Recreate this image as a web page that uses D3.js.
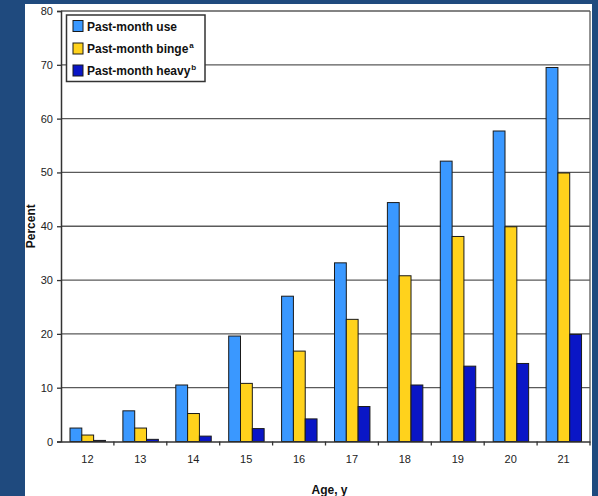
<!DOCTYPE html>
<html><head><meta charset="utf-8">
<script src="https://cdn.jsdelivr.net/npm/d3@7"></script>
<style>html,body{margin:0;padding:0;background:#1f4a7e;}svg{display:block;}</style>
</head><body>
<svg id="c" width="598" height="496"></svg>
<script>
const ages = ["12","13","14","15","16","17","18","19","20","21"];
const seriesNames = ["Past-month use","Past-month binge","Past-month heavy"];
const seriesSup = ["","a","b"];
const useVals   = [2.5, 5.7, 10.5, 19.6, 27.0, 33.2, 44.4, 52.1, 57.7, 69.5];
const bingeVals = [1.2, 2.5, 5.2, 10.8, 16.8, 22.7, 30.8, 38.1, 39.9, 49.9];
const heavyVals = [0.2, 0.4, 1.0, 2.4, 4.2, 6.5, 10.5, 14.0, 14.5, 19.9];
const yTicks = [0,10,20,30,40,50,60,70,80];
const colors = ["#3a98ff","#ffd21c","#0a16c6"];

const svg = d3.select("#c");
const W = 598, H = 496;
svg.append("rect").attr("x",0).attr("y",0).attr("width",W).attr("height",H).attr("fill","#1f4a7e");
svg.append("rect").attr("x",25).attr("y",4).attr("width",567).attr("height",492).attr("fill","#ffffff");

const L = 61, R = 590, T = 11, B = 441.5;
const x = d3.scaleBand().domain(ages).range([L, R]).padding(0);
const xs = d3.scaleBand().domain(seriesNames).range([x.bandwidth()*0.17, x.bandwidth()*0.84]).padding(0);
const y = d3.scaleLinear().domain([0,80]).range([B, T]);
const font = "'Liberation Sans', Arial, sans-serif";

// gridlines
svg.append("g").selectAll("line").data(yTicks.filter(d=>d>0)).join("line")
  .attr("x1", L).attr("x2", R).attr("y1", d=>y(d)).attr("y2", d=>y(d))
  .attr("stroke","#5a5a5a").attr("stroke-width",1.3);
// right frame
svg.append("line").attr("x1",R).attr("x2",R).attr("y1",T).attr("y2",B)
  .attr("stroke","#5a5a5a").attr("stroke-width",1.3);

// bars
const data = ages.map((a,i)=>({age:a, vals:[useVals[i],bingeVals[i],heavyVals[i]]}));
const g = svg.append("g").selectAll("g").data(data).join("g")
  .attr("transform", d=>`translate(${x(d.age)},0)`);
g.selectAll("rect").data(d=>d.vals.map((v,j)=>({v, s:seriesNames[j], j}))).join("rect")
  .attr("x", d=>xs(d.s)).attr("width", xs.bandwidth())
  .attr("y", d=>y(d.v)).attr("height", d=>B - y(d.v))
  .attr("fill", d=>colors[d.j]).attr("stroke","#1a1a1a").attr("stroke-width",1);

// y axis
const yAxis = d3.axisLeft(y).tickValues(yTicks).tickSize(4).tickPadding(4);
const ya = svg.append("g").attr("transform",`translate(${L},0)`).call(yAxis);
ya.select(".domain").attr("stroke","#333").attr("stroke-width",1.5);
ya.selectAll(".tick line").attr("stroke","#333").attr("stroke-width",1.3);
ya.selectAll("text").attr("font-family",font).attr("font-size",11).attr("fill","#222");

// x axis
const xAxis = d3.axisBottom(x).tickSize(0).tickPadding(14);
const xa = svg.append("g").attr("transform",`translate(0,${B})`).call(xAxis);
xa.select(".domain").attr("stroke","#333").attr("stroke-width",1.5);
xa.selectAll("text").attr("font-family",font).attr("font-size",11).attr("fill","#222");
// boundary ticks
svg.append("g").selectAll("line").data(ages.slice(1).concat(["end"])).join("line")
  .attr("x1", d=> d==="end" ? R : x(d)).attr("x2", d=> d==="end" ? R : x(d))
  .attr("y1", B).attr("y2", B+4).attr("stroke","#333").attr("stroke-width",1.3);

// axis titles
svg.append("text").attr("x", (L+R)/2 + 4).attr("y", 494).attr("text-anchor","middle")
  .attr("font-family",font).attr("font-weight","bold").attr("font-size",12).attr("fill","#111").text("Age, y");
svg.append("text").attr("transform",`translate(35,${(T+B)/2}) rotate(-90)`).attr("text-anchor","middle")
  .attr("font-family",font).attr("font-weight","bold").attr("font-size",12).attr("fill","#111").text("Percent");

// legend
const lg = svg.append("g");
lg.append("rect").attr("x",66.5).attr("y",15).attr("width",138.5).attr("height",66.5)
  .attr("fill","#fff").attr("stroke","#333").attr("stroke-width",1.5);
const rows = [26, 48.5, 70.5];
seriesNames.forEach((s,i)=>{
  lg.append("rect").attr("x",73).attr("y",rows[i]-5.5).attr("width",10).attr("height",11)
    .attr("fill",colors[i]).attr("stroke","#1a1a1a").attr("stroke-width",1);
  const t = lg.append("text").attr("x",87).attr("y",rows[i]+4.5)
    .attr("font-family",font).attr("font-weight","bold").attr("font-size",12).attr("fill","#111");
  t.append("tspan").text(s);
  if (seriesSup[i]) t.append("tspan").attr("dx",1).attr("dy",-5).attr("font-size",8).text(seriesSup[i]);
});
</script>
</body></html>
